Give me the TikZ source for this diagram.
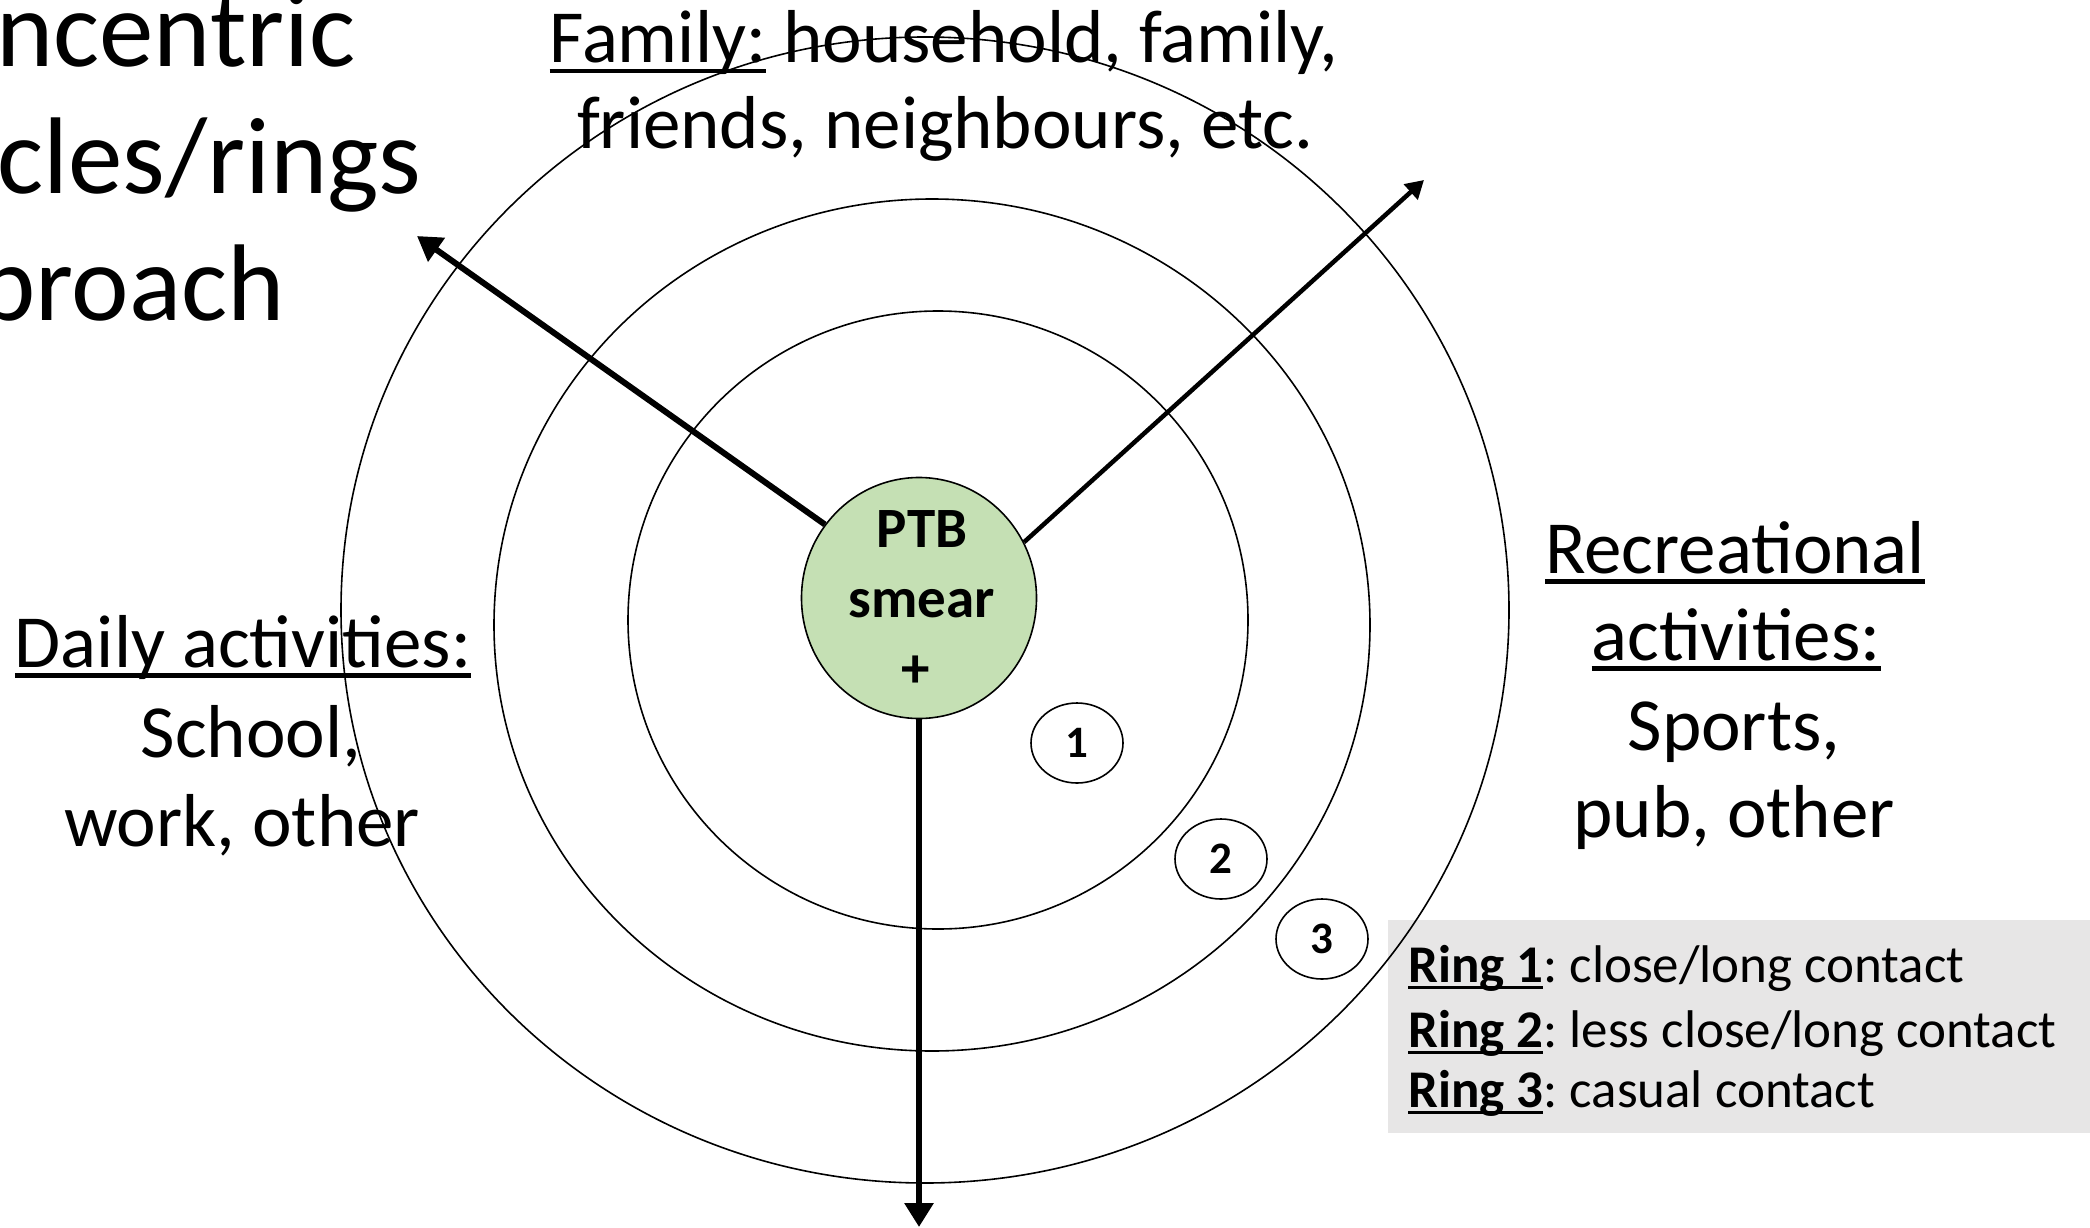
\documentclass[tikz,border=0pt]{standalone}
\usepackage{fontspec}
\setmainfont{Carlito}
\usetikzlibrary{arrows.meta,shapes.geometric}
\frenchspacing
\newsavebox\ulbox
\newcommand\ulx[1]{\sbox\ulbox{#1}\rlap{\rule[-0.14em]{\wd\ulbox}{0.065em}}\usebox\ulbox}
\definecolor{ptbgreen}{HTML}{C5E0B4}
\definecolor{legendgray}{HTML}{E7E6E6}
\begin{document}
\begin{tikzpicture}[x=1pt,y=-1pt,
  ring/.style={draw=black,line width=1.6pt},
  bigtxt/.style={inner sep=0pt,anchor=base,font=\fontsize{75}{90}\selectfont},
  titletxt/.style={inner sep=0pt,anchor=base west,font=\fontsize{109}{130}\selectfont},
  legtxt/.style={inner sep=0pt,anchor=base west,font=\fontsize{53}{64}\selectfont},
  ptbtxt/.style={inner sep=0pt,anchor=base,font=\bfseries\fontsize{57}{66}\selectfont},
  numcirc/.style={draw=black,line width=1.6pt,ellipse,minimum width=92pt,minimum height=80pt,inner sep=0pt,font=\bfseries\fontsize{45}{52}\selectfont},
  arr/.style={line width=6pt,-{Triangle[width=28pt,length=24pt]}}
]
\useasboundingbox (0,0) rectangle (2090,1228);
% legend box
\fill[legendgray] (1388,920) rectangle (2090,1133);
% rings
\draw[ring] (938,620) ellipse [x radius=310pt, y radius=309pt];
\draw[ring] (932,625) ellipse [x radius=438pt, y radius=426pt];
\draw[ring] (925,610) ellipse [x radius=584pt, y radius=573pt];
% center node
\node[ellipse,draw=black,line width=1.6pt,fill=ptbgreen,minimum width=235pt,minimum height=241pt,inner sep=0pt] (ptb) at (919,598) {};
\node[ptbtxt] (ptb1) at (922,547) {PTB};
\node[ptbtxt] (ptb2) at (922,617) {smear};
\node[ptbtxt] (ptb3) at (916,687) {+};
% arrows
\coordinate (nwtip) at (417,236);
\coordinate (netip) at (1424,180);
\coordinate (stip) at (919,1227);
\draw[arr] (ptb.142) -- (nwtip);
\draw[line width=4.5pt,-{Triangle[width=20pt,length=18pt]}] (ptb.28) -- (netip);
\draw[arr] (ptb.south) -- (stip);
% numbered circles
\node[numcirc] (n1) at (1077,743) {1};
\node[numcirc] (n2) at (1221,859) {2};
\node[numcirc] (n3) at (1322,939) {3};
% title
\node[titletxt] (t1) at (-4,67) {ncentric};
\node[titletxt] (t2) at (-3,193) {cles/rings};
\node[titletxt] (t3) at (-22,320) {proach};
% family
\node[bigtxt] (f1) at (944,63) {\ulx{Family:} household, family,};
\node[bigtxt] (f2) at (945,149) {friends, neighbours, etc.};
% daily
\node[bigtxt] (d1) at (243,667) {\ulx{Daily activities:}};
\node[bigtxt] (d2) at (251,757) {School,};
\node[bigtxt] (d3) at (242,846) {work, other};
% recreational
\node[bigtxt] (r1) at (1735,573) {\ulx{Recreational}};
\node[bigtxt] (r2) at (1736,660) {\ulx{activities:}};
\node[bigtxt] (r3) at (1734,750) {Sports,};
\node[bigtxt] (r4) at (1734,837) {pub, other};
% legend
\node[legtxt] (l1) at (1408,982) {\textbf{\ulx{Ring 1}}: close/long contact};
\node[legtxt] (l2) at (1408,1047) {\textbf{\ulx{Ring 2}}: less close/long contact};
\node[legtxt] (l3) at (1408,1107) {\textbf{\ulx{Ring 3}}: casual contact};
\end{tikzpicture}
\end{document}
